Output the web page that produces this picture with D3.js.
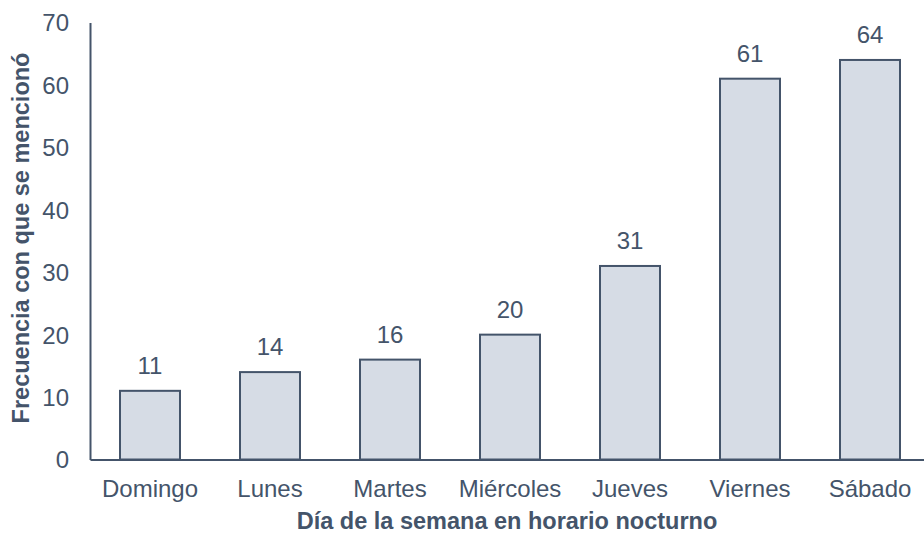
<!DOCTYPE html>
<html>
<head>
<meta charset="utf-8">
<script src="https://cdn.jsdelivr.net/npm/d3@7"></script>
<style>
  body { margin: 0; background: #fff; }
  svg text { font-family: "Liberation Sans", Arial, sans-serif; fill: #44546a; }
</style>
</head>
<body>
<svg id="chart" width="924" height="533"></svg>
<script>
"use strict";

const dias = ["Domingo", "Lunes", "Martes", "Miércoles", "Jueves", "Viernes", "Sábado"];
const frecuencias = [11, 14, 16, 20, 31, 61, 64];
const y_ticks = [0, 10, 20, 30, 40, 50, 60, 70];

const color_line = "#44546a",
  color_fill = "#d6dce5";

let chart_svg = d3.select("#chart");

let chart_left = 90,
  chart_right = 930,
  chart_top = 22.5,
  chart_bottom = 459.5;

let x_scale = d3.scaleBand().range([chart_left, chart_right]).domain(dias).paddingInner(0.5).paddingOuter(0.25);
let y_scale = d3.scaleLinear().range([chart_bottom, chart_top]).domain([0, 70]);

// bars
let bars = chart_svg.append("g").selectAll("rect")
  .data(dias)
  .enter();

bars.append("rect")
  .attr("x", d => x_scale(d))
  .attr("y", (d, i) => y_scale(frecuencias[i]))
  .attr("width", x_scale.bandwidth())
  .attr("height", (d, i) => chart_bottom - y_scale(frecuencias[i]))
  .attr("fill", color_fill)
  .attr("stroke", color_line)
  .attr("stroke-width", 2);

bars.append("text")
  .attr("x", d => x_scale(d) + 0.5 * x_scale.bandwidth())
  .attr("y", (d, i) => y_scale(frecuencias[i]) - 17)
  .attr("text-anchor", "middle")
  .attr("font-size", 24)
  .text((d, i) => frecuencias[i]);

// y axis
let y_axis = chart_svg.append("g")
  .attr("transform", "translate(" + chart_left + ",0)")
  .call(d3.axisLeft(y_scale).tickValues(y_ticks).tickSize(0).tickPadding(21));
y_axis.select("path").attr("stroke", color_line).attr("stroke-width", 2);
y_axis.selectAll("text").attr("font-size", 24).attr("fill", color_line).attr("dy", "0.35em")
  .attr("font-family", "Liberation Sans, Arial, sans-serif");

// x axis
let x_axis = chart_svg.append("g")
  .attr("transform", "translate(0," + chart_bottom + ")")
  .call(d3.axisBottom(x_scale).tickSize(0).tickPadding(20));
x_axis.select("path").attr("stroke", color_line).attr("stroke-width", 2);
x_axis.selectAll("text").attr("font-size", 24).attr("fill", color_line)
  .attr("font-family", "Liberation Sans, Arial, sans-serif");

// axis titles
chart_svg.append("text")
  .attr("x", 507)
  .attr("y", 529)
  .attr("text-anchor", "middle")
  .attr("font-size", 23.5)
  .attr("font-weight", "bold")
  .text("Día de la semana en horario nocturno");

chart_svg.append("text")
  .attr("transform", "translate(29,238) rotate(-90)")
  .attr("text-anchor", "middle")
  .attr("font-size", 23.5)
  .attr("font-weight", "bold")
  .text("Frecuencia con que se mencionó");
</script>
</body>
</html>
